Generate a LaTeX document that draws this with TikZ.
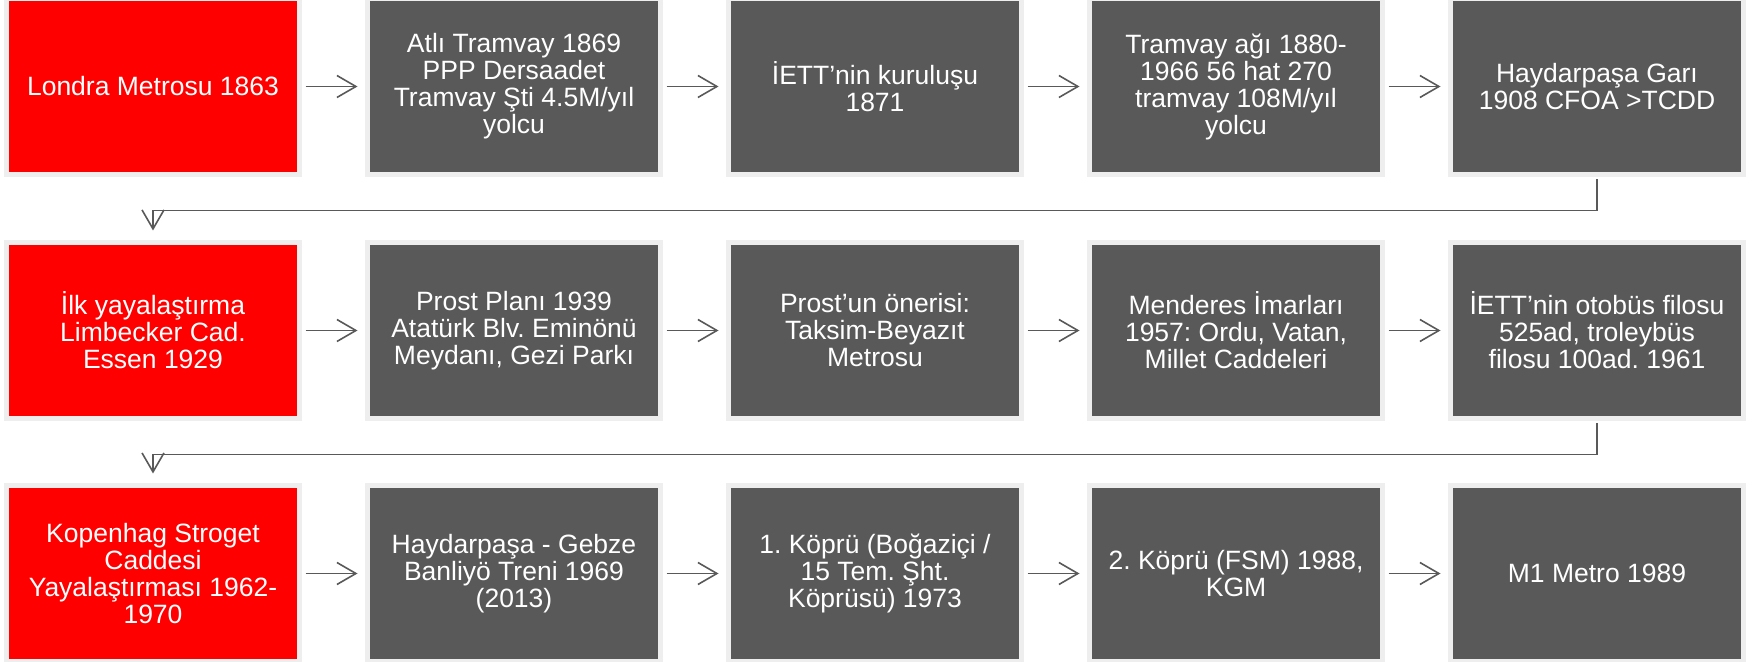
\documentclass[tikz,border=0pt]{standalone}
\usepackage{fontspec}
\setmainfont{Liberation Sans}
\definecolor{TimeRed}{HTML}{FF0000}
\definecolor{TimeGray}{HTML}{595959}
\definecolor{TimeEdge}{HTML}{EEEEEE}
\usepackage{xcolor}
\usepackage{tikz}
\usetikzlibrary{arrows.meta}
\frenchspacing

\begin{document}
\begin{tikzpicture}[x=0.5pt,y=-0.5pt,
  font=\fontsize{13.25pt}{13.5pt}\selectfont,
  event/.style={draw=TimeEdge,line width=2.5pt,fill=TimeGray,text=white,
    minimum width=146.5pt,minimum height=88pt,inner sep=0pt,align=center},
  first/.style={event,fill=TimeRed},
  flow/.style={draw=TimeGray,line width=0.8pt,
    -{Straight Barb[length=9.5pt,width=11pt]},
    shorten <=1.75pt,shorten >=3.75pt},
  turn/.style={flow,shorten <=1.25pt,shorten >=4.75pt}]
  \useasboundingbox (0,0) rectangle (1758,662);

  % Row 1: 1863 - 1908
  \node[first] (londra) at (153,86.5) {Londra Metrosu 1863};
  \node[event] (atli) at (514,86.5)
    {Atlı Tramvay 1869\\PPP Dersaadet\\Tramvay Şti 4.5M/yıl\\yolcu};
  \node[event] (iett) at (875,86.5) {İETT’nin kuruluşu\\1871};
  \node[event] (tramag) at (1236,86.5)
    {Tramvay ağı 1880-\\1966 56 hat 270\\tramvay 108M/yıl\\yolcu};
  \node[event] (haydar) at (1597,86.5) {Haydarpaşa Garı\\1908 CFOA >TCDD};

  % Row 2: 1929 - 1961
  \node[first] (ilkyaya) at (153,330.5)
    {İlk yayalaştırma\\Limbecker Cad.\\Essen 1929};
  \node[event] (prost) at (514,330.5)
    {Prost Planı 1939\\Atatürk Blv. Eminönü\\Meydanı, Gezi Parkı};
  \node[event] (oneri) at (875,330.5)
    {Prost’un önerisi:\\Taksim-Beyazıt\\Metrosu};
  \node[event] (menderes) at (1236,330.5)
    {Menderes İmarları\\1957: Ordu, Vatan,\\Millet Caddeleri};
  \node[event] (filo) at (1597,330.5)
    {İETT’nin otobüs filosu\\525ad, troleybüs\\filosu 100ad. 1961};

  % Row 3: 1962 - 1989
  \node[first] (kopenhag) at (153,573.5)
    {Kopenhag Stroget\\Caddesi\\Yayalaştırması 1962-\\1970};
  \node[event] (banliyo) at (514,573.5)
    {Haydarpaşa - Gebze\\Banliyö Treni 1969\\(2013)};
  \node[event] (kopru1) at (875,573.5)
    {1. Köprü (Boğaziçi /\\15 Tem. Şht.\\Köprüsü) 1973};
  \node[event] (kopru2) at (1236,573.5) {2. Köprü (FSM) 1988,\\KGM};
  \node[event] (metro) at (1597,573.5) {M1 Metro 1989};

  % arrows along each row
  \draw[flow] (londra) -- (atli);
  \draw[flow] (atli) -- (iett);
  \draw[flow] (iett) -- (tramag);
  \draw[flow] (tramag) -- (haydar);
  \draw[flow] (ilkyaya) -- (prost);
  \draw[flow] (prost) -- (oneri);
  \draw[flow] (oneri) -- (menderes);
  \draw[flow] (menderes) -- (filo);
  \draw[flow] (kopenhag) -- (banliyo);
  \draw[flow] (banliyo) -- (kopru1);
  \draw[flow] (kopru1) -- (kopru2);
  \draw[flow] (kopru2) -- (metro);

  % wrap to the next row
  \draw[turn] (haydar.south) -- ++(0,33.5) -| (ilkyaya.north);
  \draw[turn] (filo.south) -- ++(0,33.5) -| (kopenhag.north);
\end{tikzpicture}
\end{document}
